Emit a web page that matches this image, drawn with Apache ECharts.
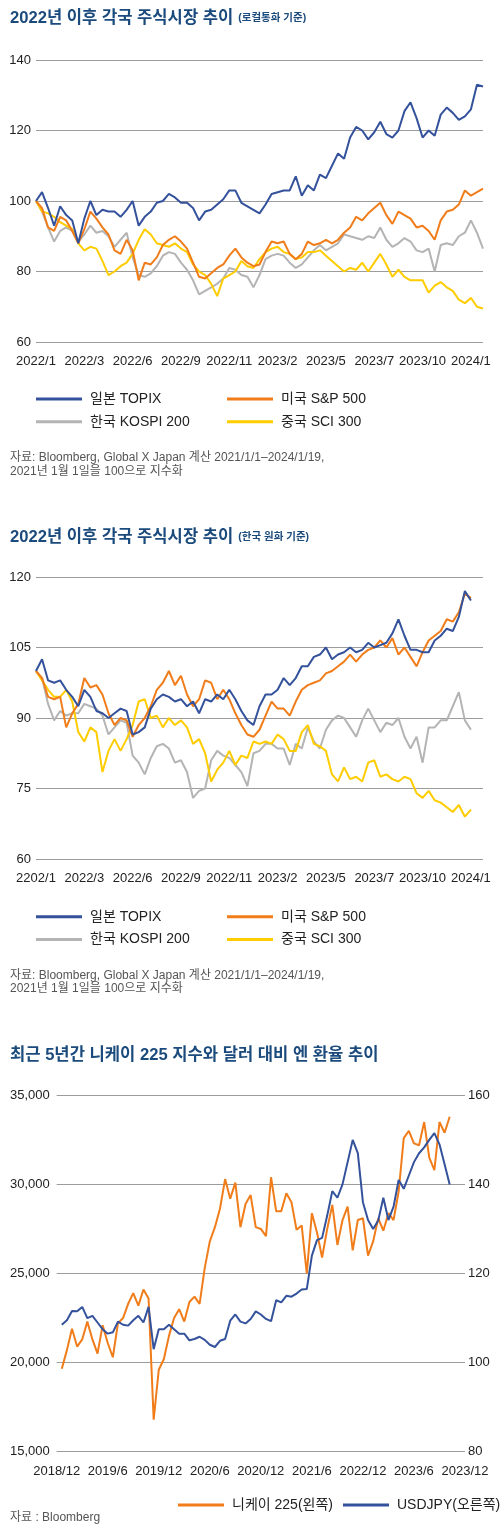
<!DOCTYPE html>
<html><head><meta charset="utf-8">
<script src="https://cdn.jsdelivr.net/npm/echarts/dist/echarts.min.js"></script>
<style>html,body{margin:0;padding:0;background:#fff}#c{width:500px;height:1538px}</style>
</head><body><div id="c"></div>
<script>
// ---------- Chart 1: local currency ----------
const ticks1 = ['2022/1','2022/3','2022/6','2022/9','2022/11','2023/2','2023/5','2023/7','2023/10','2024/1'];
const topix1 = [100,102.5,98,93,98.5,96,94.5,88,95,100,96,97.5,97,97,95.5,97.5,100,93,95.5,97,99.5,100,102,101,99.5,99.5,98,94.5,97,97.5,99,100.5,103,103,99.5,98.5,97.5,96.5,99,102,102.5,103,103,107,101.5,104.5,103,107.5,106.5,110,113.5,112,118,121,120,117.5,119.5,122.5,119,118,120,125.5,128,123.5,118,120,118.5,124.5,126.5,125,123,124,126,133,132.5];
const sp1 = [100,98,92.5,91.5,95.5,94.5,91.5,88,92,97,95,92.5,90.5,86,85,89,86,77.5,82.5,82,84,87.5,89,90,88.5,86.5,82.5,78.5,78,79.5,81,82,84.5,86.5,84,82.5,81.5,82,85.5,88.5,88,88.5,85,83.5,85,88.5,87.5,88,89,88,89,91,92.5,95.5,94.5,96.5,98,99.5,96,93.5,97,96,95,92.5,93,91.5,89,94.5,97,97.5,99,103,101.5,102.5,103.5];
const kospi1 = [100,97,92.5,88.5,91.5,92.5,91.5,88.5,90.5,93,91,91.5,90,87,89,91,84,79,78.5,79.5,81.5,84.5,85.5,85,82.5,80.5,77.5,73.5,74.5,75.5,76.5,78,81,80.5,79,78.5,75.5,79,83.5,84.5,85,84.5,82.5,81,82,84,86,87.5,86,87,88,90.5,90,89.5,89,90,89.5,92.5,89,87,88,89.5,88.5,86,85.5,86.5,80,87.5,88,87.5,90,91,94.5,91,86.5];
const sci1 = [100,97,96.5,95.5,94,93,92,88,86,87,86.5,83,79,80,81.5,82.5,85,89,92,90.5,88,87.5,87,88,86.5,85.5,82,80,79,76.5,73,78,79,80,83,81.5,81,83.5,85.5,86.5,87,85.5,85,83.5,84,85.5,85.5,86,84.5,83,81.5,80,81,80.5,82.5,80,82.5,85,82,78.5,80.5,78.5,77.5,77.5,77.5,74,76,77,75.5,74.5,72,71,72.5,70,69.5];

// ---------- Chart 2: KRW basis ----------
const ticks2 = ['2202/1','2022/3','2022/6','2022/9','2022/11','2023/2','2023/5','2023/7','2023/10','2024/1'];
const topix2 = [100,102.5,98,97.5,98,96,94.5,92.5,96,94.5,91.5,91,90,91,92,91.5,86.5,87,88,92,94,95,94.5,93.5,94,92.5,93.5,91,94,93.5,95,94,96,94,91.5,89.5,88.5,92.5,95,95,96,98.5,97,98.5,101,101,103,103.5,105,102.5,103.5,104,105,104,104.5,106,105,105.5,106,108,111,107.5,104.5,104.5,104,104,106.5,107.5,109,108.5,111.5,117,115];
const sp2 = [100,98.5,94.5,94,94.5,88,91,93,98.5,96.5,97,95,91,88.5,90,89.5,86,88.5,90,92.5,96,97.5,100,97,99,95,92.5,94,98,97.5,94,96,94,91,88.5,86.5,86,87.5,90.5,93.5,92,92,90.5,93.5,96,97,97.5,98,99.5,100,101,102,103.5,102,103.5,104.5,105,106.5,105,107,103.5,105,103,101,104,106.5,107.5,108.5,111,110.5,112.5,116.5,115.5];
const kospi2 = [100,98.5,93,89.5,91.5,90.5,91,91,93,92.5,92,90.5,86.5,88,89.5,89,82,80.5,78,81.5,84,84.5,83.5,80.5,81,78.5,73,74.5,75,81,83,82,81.5,80,78.5,75.5,82.5,83,84.5,84.5,83.5,83.5,80,84.5,83.5,88,85,83.5,87.5,89.5,90.5,90,88,86,89.5,92,89.5,87,89,88.5,90,86,83.5,86,80.5,88,88,89.5,89.5,92.5,95.5,89.5,87.5];
const sci2 = [100,98,96,94.5,94.5,96,93.5,87,85,88,87,78.5,83,85.5,83,85.5,88.5,93.5,94,90,90.5,88,90,88.5,89.5,88,84.5,85.5,82.5,76.5,79,80.5,83,80,82,81.5,85,84.5,85,84.5,86.5,85.5,83,83,87,88.5,84.5,84,83,78,76.5,79.5,77,77.5,76.5,80.5,81,77.5,78,77,76.5,77.5,77,74,73,74.5,72.5,72,71,70,71.5,69,70.5];

// ---------- Chart 3: Nikkei 225 & USDJPY ----------
const ticks3 = ['2018/12','2019/6','2019/12','2020/6','2020/12','2021/6','2022/12','2023/6','2023/12'];
const nikkei = [19650,20700,21900,20900,21300,22300,21300,20500,22100,21100,20300,22200,22500,23300,23900,23200,24100,23600,16800,19600,20200,21500,22500,23000,22300,23400,23700,23300,25300,26800,27600,28650,30300,29200,30100,27600,28900,29400,27600,27500,27100,30400,28500,28500,29500,29000,27450,27700,25000,28385,27300,25900,27500,28850,26600,28000,28750,26300,28000,28100,26000,26800,28100,27400,28385,28000,29600,32600,33000,32300,32200,33500,31500,30800,33500,32900,33800];
const usdjpy = [108.5,109.5,111.6,111.5,112.5,110,110.5,109,107.5,106.5,106.8,109.2,108.5,108.3,109.5,110.5,109,112.5,103,107.5,107.5,108.5,107.5,106.5,106.5,105,105.3,105.8,105.1,104,103.5,104.9,105.3,109.4,110.8,109.2,108.8,109.8,111.5,110.8,109.8,109.3,114,113.5,115,114.8,115.5,116.4,116.5,124,127.5,128,133,138.5,137,140,145,150,147,136,132,130,131.9,137,132,135,141,139,142,145,147,148.3,150,151.5,149,144.5,140];

const FONT = '"Liberation Sans","Noto Sans CJK KR",sans-serif';
const C_BLUE = '#34529b', C_ORANGE = '#f07d1a', C_GRAY = '#b4b4b4', C_YELLOW = '#ffcc00';
const TITLE_C = '#1b4a7c';
const GRID_C = '#9c9c9c';

function pts(arr, offset) { return arr.map((v, i) => [i + offset, v]); }
function line(name, arr, color, xi, yi, offset, z) {
  return { type: 'line', name, data: pts(arr, offset || 0), xAxisIndex: xi, yAxisIndex: yi,
    showSymbol: false, symbol: 'none', color, itemStyle: { color }, z: z || 2,
    lineStyle: { color, width: 2 }, animation: false, silent: true };
}
function xAxis(gi, max, step, labels) {
  return { type: 'value', gridIndex: gi, min: 0, max, interval: step,
    axisLine: { show: false }, axisTick: { show: false }, splitLine: { show: false },
    axisLabel: { margin: 13, fontSize: 13, color: '#222', fontFamily: FONT,
      formatter: v => (v % step === 0 && v / step < labels.length) ? labels[v / step] : '' } };
}
function yAxis(gi, min, max, step, margin, pos, split) {
  return { type: 'value', gridIndex: gi, min, max, interval: step, position: pos || 'left',
    axisLine: { show: false }, axisTick: { show: false },
    splitLine: { show: split !== false, lineStyle: { color: GRID_C, width: 1 } },
    axisLabel: { margin, fontSize: 13, color: '#222', fontFamily: FONT } };
}
function title(main, sub, top) {
  const rich = { a: { fontSize: 16.6, fontWeight: 'bold', color: TITLE_C, fontFamily: FONT, lineHeight: 22 } };
  if (sub) rich.b = { fontSize: 10.5, fontWeight: 'bold', color: TITLE_C, fontFamily: FONT, lineHeight: 22 };
  return { left: 10, top, padding: 0, text: sub ? '{a|' + main + '} {b|' + sub + '}' : '{a|' + main + '}',
    textStyle: { rich } };
}
function legend(names, left, top, orient, gap) {
  return { data: names, left, top, orient, padding: 0, itemGap: gap, icon: 'rect',
    itemWidth: 46, itemHeight: 3, selectedMode: false, width: 300,
    textStyle: { fontSize: 14, color: '#222', fontFamily: FONT, lineHeight: 16, padding: [0, 0, 0, 3] } };
}
function note(text, top) {
  return { type: 'text', left: 10, top, silent: true,
    style: { text, font: '12px ' + FONT, fill: '#555', lineHeight: 13.4 } };
}

const option = {
  backgroundColor: '#fff',
  animation: false,
  title: [
    title('2022년 이후 각국 주식시장 추이', '(로컬통화 기준)', 7.5),
    title('2022년 이후 각국 주식시장 추이', '(한국 원화 기준)', 526),
    title('최근 5년간 니케이 225 지수와 달러 대비 엔 환율 추이', null, 1044)
  ],
  grid: [
    { left: 36, right: 17, top: 60, height: 282, outerBoundsMode: 'none', containLabel: false },
    { left: 36, right: 17, top: 577, height: 282, outerBoundsMode: 'none', containLabel: false },
    { left: 56.7, right: 35, top: 1095.3, height: 356.4, outerBoundsMode: 'none', containLabel: false }
  ],
  xAxis: [ xAxis(0, 74, 8, ticks1), xAxis(1, 74, 8, ticks2), xAxis(2, 80, 10, ticks3) ],
  yAxis: [
    yAxis(0, 60, 140, 20, 5),
    yAxis(1, 60, 120, 15, 5),
    yAxis(2, 15000, 35000, 5000, 7),
    yAxis(2, 80, 160, 20, 3, 'right', false)
  ],
  legend: [
    legend(['일본 TOPIX', '한국 KOSPI 200'], 36, 391, 'vertical', 6.7),
    legend(['미국 S&P 500', '중국 SCI 300'], 227, 391, 'vertical', 6.7),
    legend(['일본 TOPIX', '한국 KOSPI 200'], 36, 908.7, 'vertical', 6.7),
    legend(['미국 S&P 500', '중국 SCI 300'], 227, 908.7, 'vertical', 6.7),
    legend(['니케이 225(왼쪽)'], 178, 1497, 'horizontal', 0),
    legend(['USDJPY(오른쪽)'], 343, 1497, 'horizontal', 0)
  ],
  series: [
    line('한국 KOSPI 200', kospi1, C_GRAY, 0, 0, 0, 2),
    line('중국 SCI 300', sci1, C_YELLOW, 0, 0, 0, 3),
    line('미국 S&P 500', sp1, C_ORANGE, 0, 0, 0, 4),
    line('일본 TOPIX', topix1, C_BLUE, 0, 0, 0, 5),
    line('한국 KOSPI 200', kospi2, C_GRAY, 1, 1, 0, 2),
    line('중국 SCI 300', sci2, C_YELLOW, 1, 1, 0, 3),
    line('미국 S&P 500', sp2, C_ORANGE, 1, 1, 0, 4),
    line('일본 TOPIX', topix2, C_BLUE, 1, 1, 0, 5),
    line('니케이 225(왼쪽)', nikkei, C_ORANGE, 2, 2, 1, 3),
    line('USDJPY(오른쪽)', usdjpy, C_BLUE, 2, 3, 1, 4)
  ],
  graphic: [
    note('자료: Bloomberg, Global X Japan 계산 2021/1/1–2024/1/19,\n2021년 1월 1일을 100으로 지수화', 451.3),
    note('자료: Bloomberg, Global X Japan 계산 2021/1/1–2024/1/19,\n2021년 1월 1일을 100으로 지수화', 969),
    note('자료 : Bloomberg', 1511.3)
  ]
};
const chart = echarts.init(document.getElementById('c'));
chart.setOption(option);
</script>
</body></html>
